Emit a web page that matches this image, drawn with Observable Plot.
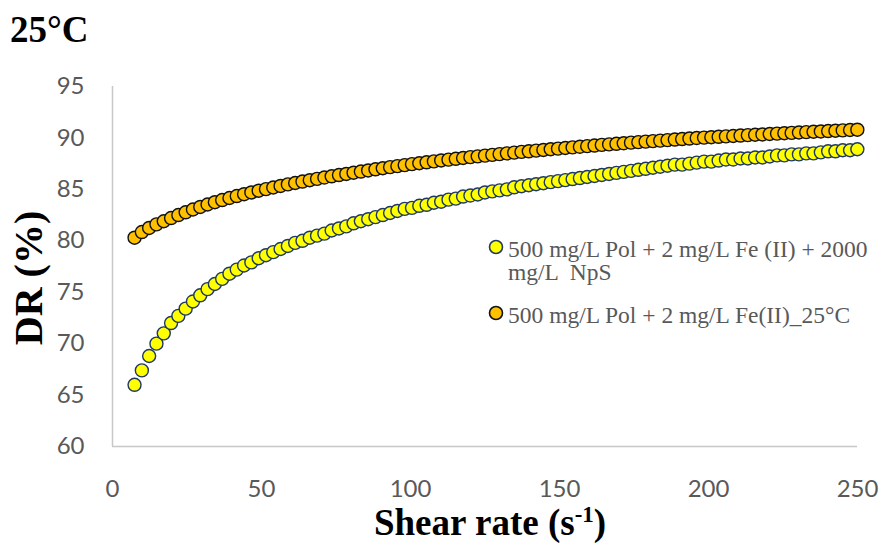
<!DOCTYPE html>
<html>
<head>
<meta charset="utf-8">
<script src="https://cdn.jsdelivr.net/npm/d3@7"></script>
<script src="https://cdn.jsdelivr.net/npm/@observablehq/plot@0.6"></script>
<style>
  body { margin: 0; background: #fff; }
  #wrap { position: relative; width: 885px; height: 546px; overflow: hidden; background: #fff; }
  #wrap svg { position: absolute; left: 0; top: 0; }
  .title { position: absolute; left: 10px; top: 8px; font: bold 37px "Liberation Serif", "Times New Roman", serif; color: #000; white-space: nowrap; }
  .ytitle { position: absolute; left: 28px; top: 278px; transform: translate(-50%, -50%) rotate(-90deg); font: bold 40px "Liberation Serif", "Times New Roman", serif; color: #000; white-space: nowrap; }
  .xtitle { position: absolute; left: 490px; top: 522px; transform: translate(-50%, -50%); font: bold 37px "Liberation Serif", "Times New Roman", serif; color: #000; white-space: nowrap; }
  .xtitle sup { font-size: 0.62em; vertical-align: 0.55em; line-height: 0; }
  .legend { position: absolute; left: 487px; top: 238px; font: 23.5px "Liberation Serif", "Times New Roman", serif; color: #595959; }
  .entry { position: relative; padding-left: 21px; width: 372px; line-height: 23px; white-space: pre-wrap; }
  .entry + .entry { margin-top: 20px; }
  .entry svg { position: absolute; left: 0; top: 4px; }
</style>
</head>
<body>
<div id="wrap"></div>
<script>
// Shear rate (1/s) at each measurement
const shearRate = [
  7.4, 9.85, 12.3, 14.75, 17.2, 19.65, 22.1, 24.55, 27, 29.45,
  31.9, 34.35, 36.8, 39.25, 41.7, 44.15, 46.6, 49.05, 51.5, 53.95,
  56.4, 58.85, 61.3, 63.75, 66.2, 68.65, 71.1, 73.55, 76, 78.45,
  80.9, 83.35, 85.8, 88.25, 90.7, 93.15, 95.6, 98.05, 100.5, 102.95,
  105.4, 107.85, 110.3, 112.75, 115.2, 117.65, 120.1, 122.55, 125, 127.45,
  129.9, 132.35, 134.8, 137.25, 139.7, 142.15, 144.6, 147.05, 149.5, 151.95,
  154.4, 156.85, 159.3, 161.75, 164.2, 166.65, 169.1, 171.55, 174, 176.45,
  178.9, 181.35, 183.8, 186.25, 188.7, 191.15, 193.6, 196.05, 198.5, 200.95,
  203.4, 205.85, 208.3, 210.75, 213.2, 215.65, 218.1, 220.55, 223, 225.45,
  227.9, 230.35, 232.8, 235.25, 237.7, 240.15, 242.6, 245.05, 247.5, 249.95
];

// Drag reduction (%) with 2000 mg/L NpS
const drNpS = [
  66.0, 67.4, 68.8, 70.0, 71.0, 72.0, 72.7, 73.4, 74.1, 74.7,
  75.3, 75.8, 76.3, 76.8, 77.2, 77.6, 77.9, 78.3, 78.6, 78.9,
  79.2, 79.5, 79.8, 80.0, 80.3, 80.5, 80.7, 81.0, 81.2, 81.4,
  81.7, 81.9, 82.1, 82.3, 82.5, 82.7, 82.9, 83.1, 83.2, 83.4,
  83.5, 83.7, 83.8, 84.0, 84.1, 84.3, 84.4, 84.5, 84.7, 84.8,
  84.9, 85.0, 85.2, 85.3, 85.4, 85.5, 85.6, 85.7, 85.8, 85.9,
  86.0, 86.1, 86.2, 86.3, 86.4, 86.5, 86.6, 86.7, 86.8, 86.9,
  87.0, 87.1, 87.2, 87.3, 87.4, 87.4, 87.5, 87.6, 87.7, 87.7,
  87.8, 87.9, 87.9, 88.0, 88.0, 88.1, 88.1, 88.2, 88.3, 88.3,
  88.4, 88.4, 88.5, 88.5, 88.6, 88.7, 88.7, 88.8, 88.8, 88.9
];

// Drag reduction (%) without NpS, 25°C
const drFe = [
  80.30, 80.85, 81.25, 81.60, 81.90, 82.21, 82.50, 82.77, 83.04, 83.29,
  83.53, 83.75, 83.96, 84.16, 84.35, 84.53, 84.70, 84.87, 85.02, 85.18,
  85.33, 85.48, 85.62, 85.76, 85.89, 86.02, 86.15, 86.27, 86.39, 86.50,
  86.62, 86.73, 86.84, 86.95, 87.05, 87.16, 87.26, 87.36, 87.45, 87.54,
  87.63, 87.72, 87.81, 87.89, 87.97, 88.05, 88.13, 88.21, 88.28, 88.35,
  88.43, 88.50, 88.57, 88.64, 88.70, 88.77, 88.83, 88.90, 88.96, 89.02,
  89.08, 89.14, 89.20, 89.26, 89.32, 89.37, 89.43, 89.48, 89.54, 89.59,
  89.64, 89.69, 89.74, 89.79, 89.84, 89.89, 89.94, 89.99, 90.03, 90.07,
  90.11, 90.15, 90.19, 90.23, 90.27, 90.31, 90.34, 90.38, 90.42, 90.46,
  90.49, 90.53, 90.56, 90.60, 90.63, 90.67, 90.70, 90.73, 90.77, 90.80
];

const seriesNames = [
  "500 mg/L Pol + 2 mg/L Fe (II) + 2000 mg/L  NpS",
  "500 mg/L Pol + 2 mg/L Fe(II)_25°C"
];
const seriesFill = ["#ffff00", "#ffc000"];
const seriesStroke = ["#1f3864", "#111111"];

const xTicks = [0, 50, 100, 150, 200, 250];
const yTicks = [60, 65, 70, 75, 80, 85, 90, 95];

const chartTitle = "25°C";
const yTitle = "DR (%)";
const xTitle = "Shear rate (s";
const xTitleSup = "-1";

// Long-format table: one row per measured point
const rows = [];
[drNpS, drFe].forEach((values, s) => {
  values.forEach((v, i) => rows.push({series: seriesNames[s], shear: shearRate[i], dr: v}));
});

const dotMarks = seriesNames.map((name, s) =>
  Plot.dot(rows.filter(d => d.series === name), {
    x: "shear", y: "dr", r: 6.5,
    fill: seriesFill[s], stroke: seriesStroke[s], strokeWidth: 1.4
  })
);

const chart = Plot.plot({
  width: 885,
  height: 546,
  marginLeft: 112,
  marginRight: 28,
  marginTop: 86,
  marginBottom: 100,
  x: {domain: [0, 250]},
  y: {domain: [60, 95]},
  style: {fontFamily: "Lato, 'Open Sans', sans-serif", fontSize: "24px", color: "#595959", background: "transparent", overflow: "visible"},
  marks: [
    Plot.ruleX([0], {stroke: "#c8c8c8", strokeWidth: 1.5}),
    Plot.ruleY([60], {stroke: "#c8c8c8", strokeWidth: 1.5}),
    Plot.axisY(yTicks, {tickSize: 0, tickPadding: 28, label: null, fill: "#595959"}),
    Plot.axisX(xTicks, {tickSize: 0, tickPadding: 33, label: null, fill: "#595959"}),
    ...dotMarks
  ]
});

const wrap = document.getElementById("wrap");
wrap.appendChild(chart);

const title = document.createElement("div");
title.className = "title";
title.textContent = chartTitle;
wrap.appendChild(title);

const yt = document.createElement("div");
yt.className = "ytitle";
yt.textContent = yTitle;
wrap.appendChild(yt);

const xt = document.createElement("div");
xt.className = "xtitle";
xt.append(xTitle);
const sup = document.createElement("sup");
sup.textContent = xTitleSup;
xt.append(sup, ")");
wrap.appendChild(xt);

// Legend: marker + wrapped series name
const legend = document.createElement("div");
legend.className = "legend";
seriesNames.forEach((name, s) => {
  const e = document.createElement("div");
  e.className = "entry";
  e.innerHTML = `<svg width="18" height="18"><circle cx="9" cy="9" r="6.5" fill="${seriesFill[s]}" stroke="${seriesStroke[s]}" stroke-width="1.6"/></svg>`;
  e.append(name);
  legend.appendChild(e);
});
wrap.appendChild(legend);
</script>
</body>
</html>
